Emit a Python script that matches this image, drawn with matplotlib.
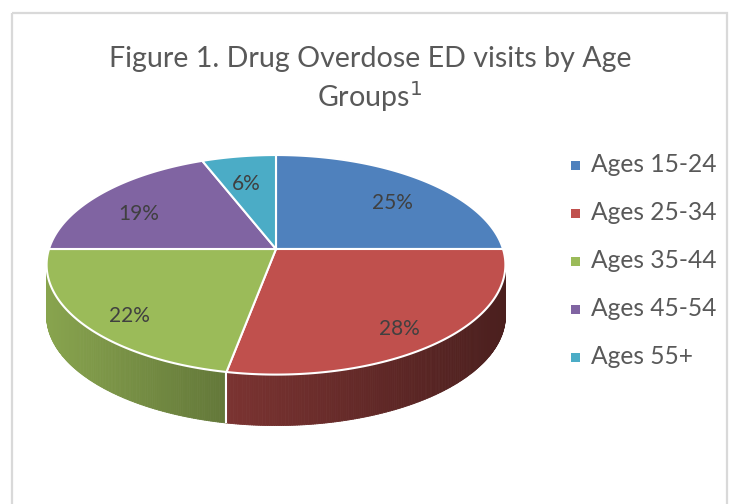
import numpy as np
import matplotlib
matplotlib.use("Agg")
import matplotlib.pyplot as plt
from matplotlib.patches import Polygon, Rectangle
from matplotlib.collections import PolyCollection
from matplotlib.colors import to_rgb

# ---- data ----
categories = ["Ages 15-24", "Ages 25-34", "Ages 35-44", "Ages 45-54", "Ages 55+"]
values = [25, 28, 22, 19, 6]
pct_labels = ["25%", "28%", "22%", "19%", "6%"]
colors = ["#4F81BD", "#C0504D", "#9BBB59", "#8064A2", "#4BACC6"]
title = "Figure 1. Drug Overdose ED visits by Age\nGroups$^{1}$"

plt.rcParams['font.family'] = ['Lato', 'DejaVu Sans']

W, H = 730, 504
fig = plt.figure(figsize=(W / 100, H / 100), dpi=100)
ax = fig.add_axes([0, 0, 1, 1])
ax.set_xlim(0, W)
ax.set_ylim(H, 0)
ax.axis('off')

# chart border
ax.add_patch(Rectangle((12, 13), 715, 520, fill=False, edgecolor="#D9D9D9", lw=1.6))

# ---- 3D pie geometry (perspective projection of a disk) ----
cx, cy = 276, 249
A, B, p = 227, 107.5, 0.144
depth = 51


def proj(theta_deg, k=1.0):
    t = np.radians(theta_deg)
    X = k * np.sin(t)
    Z = k * np.cos(t)
    w = 1 + p * Z
    return cx + A * X / w, cy - B * Z / w


total = float(sum(values))
bounds = np.concatenate([[0], np.cumsum(values)]) / total * 360.0

# visible side range
th_lo = np.degrees(np.arccos(-p))
th_hi = 360 - th_lo


def shade(x):
    return np.interp(x, [45, 225, 505], [0.88, 0.64, 0.39])


# sides
for i in range(len(values)):
    a0, a1 = max(bounds[i], th_lo), min(bounds[i + 1], th_hi)
    if a1 <= a0:
        continue
    ths = np.linspace(a0, a1, int((a1 - a0) * 2) + 2)
    polys, fcs = [], []
    base = np.array(to_rgb(colors[i]))
    for t0, t1 in zip(ths[:-1], ths[1:]):
        x0, y0 = proj(t0)
        x1, y1 = proj(t1)
        polys.append([(x0, y0), (x1, y1), (x1, y1 + depth), (x0, y0 + depth)])
        f = shade((x0 + x1) / 2)
        fcs.append(tuple(np.clip(base * f, 0, 1)))
    ax.add_collection(PolyCollection(polys, facecolors=fcs, edgecolors=fcs, linewidths=0.6))

# white separators on the side
for b in bounds[1:-1]:
    if th_lo < b < th_hi:
        x, y = proj(b)
        ax.plot([x, x], [y, y + depth], color="white", lw=1.5, solid_capstyle="butt")

# top faces
for i in range(len(values)):
    ths = np.linspace(bounds[i], bounds[i + 1], 200)
    xs, ys = proj(ths)
    pts = [(cx, cy)] + list(zip(xs, ys))
    ax.add_patch(Polygon(pts, closed=True, facecolor=colors[i], edgecolor="white",
                         lw=1.5, joinstyle="round"))

# labels
for i in range(len(values)):
    mid = (bounds[i] + bounds[i + 1]) / 2
    x, y = proj(mid, 0.78)
    ax.text(x, y + 9, pct_labels[i], ha="center", va="center", fontsize=15, color="#404040")

# title
ax.text(370, 80, title, ha="center", va="center", fontsize=20.6, color="#595959",
        linespacing=1.28)

# legend
leg_y0, leg_dy = 165, 48
for i, (c, name) in enumerate(zip(colors, categories)):
    y = leg_y0 + i * leg_dy
    ax.add_patch(Rectangle((571, y - 4), 9, 9, facecolor=c, edgecolor="none"))
    ax.text(591, y, name, ha="left", va="center", fontsize=17.7, color="#595959")

fig.savefig("out.png", dpi=100)
